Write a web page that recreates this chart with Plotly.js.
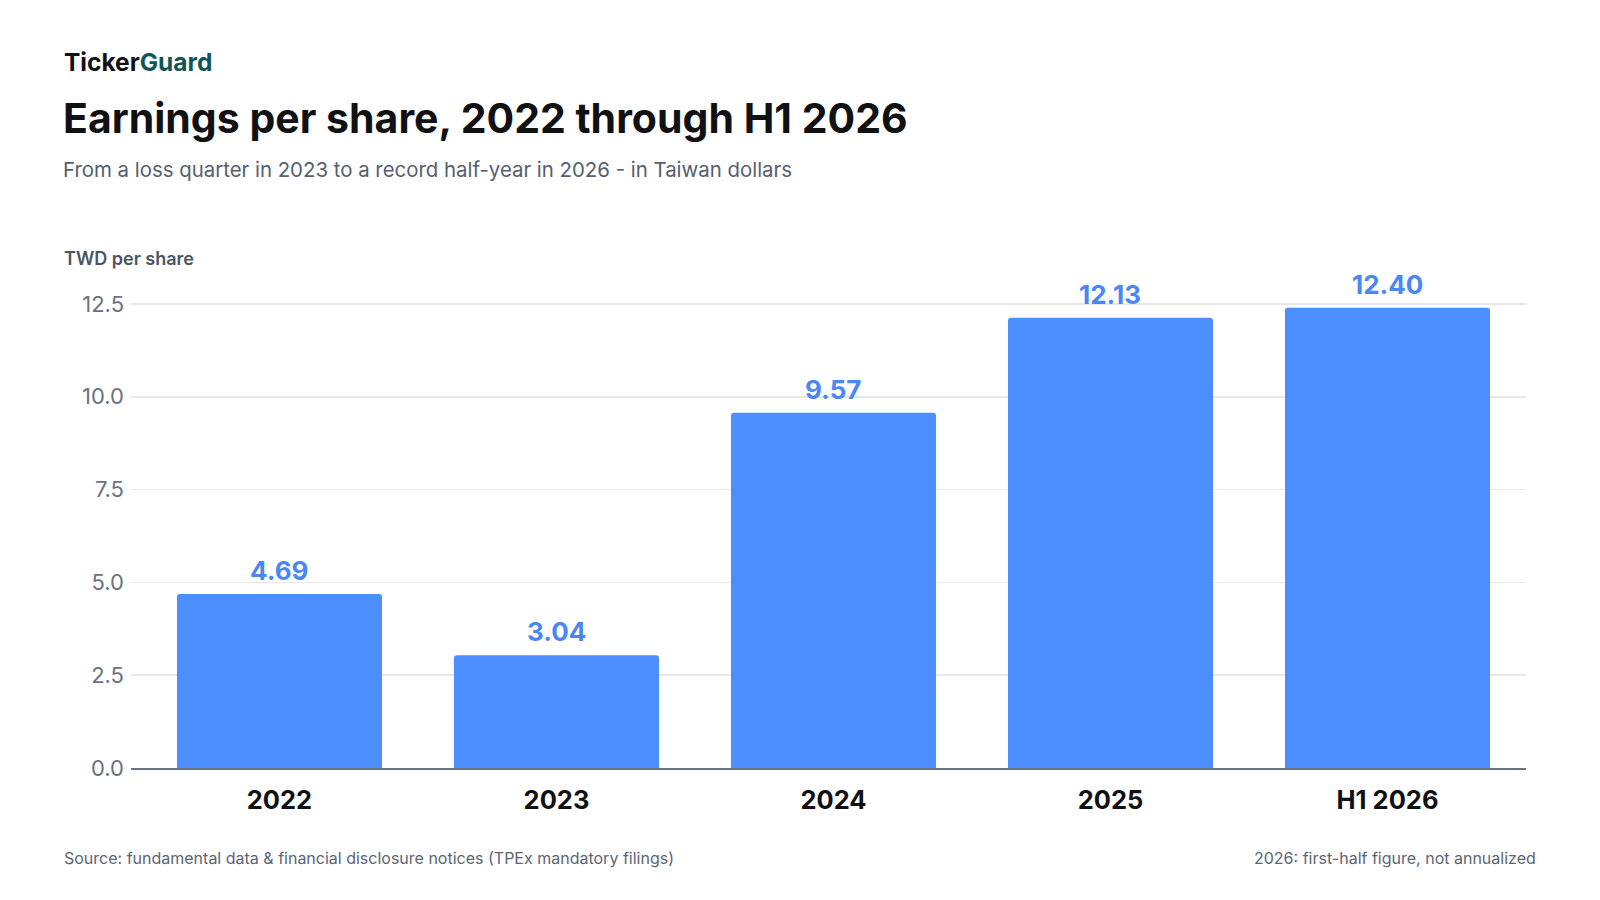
<!DOCTYPE html>
<html>
<head>
<meta charset="utf-8">
<script src="https://cdn.plot.ly/plotly-3.0.1.min.js"></script>
<style>
  html, body { margin: 0; padding: 0; background: #fff; }
  #chart { width: 1600px; height: 900px; }
</style>
</head>
<body>
<div id="chart"></div>
<script>
// data
const periods = ['2022', '2023', '2024', '2025', 'H1 2026'];
const eps = [4.69, 3.04, 9.57, 12.13, 12.40];
const yTicks = [0, 2.5, 5, 7.5, 10, 12.5];

const blue = '#4c8dff';
const font = 'Inter, "Noto Sans", sans-serif';

// plot box in pixels, used to place the header/footer text
const L = 131, R = 74, T = 278, B = 132;
const W = 1600 - L - R, H = 900 - T - B;
const px = x => (x - L) / W;
const py = y => (900 - B - y) / H;

function plotEps(el) {
    let trace = {
        x: periods,
        y: eps,
        type: 'bar',
        marker: {color: blue},
        hoverinfo: 'x+y'
    };

    // value labels over bars (x as category index, '2022' would be read as a number)
    let notes = eps.map((v, i) => ({
        x: i, y: v, xref: 'x', yref: 'y',
        text: v.toFixed(2), showarrow: false,
        yanchor: 'bottom', yshift: 6,
        font: {family: font, size: 26, color: '#4a86f5', weight: 700}
    }));

    notes.push(
        {xref: 'paper', yref: 'paper', x: px(62), y: py(62), xanchor: 'left', yanchor: 'middle',
         text: 'Ticker<span style="color:#0f5659">Guard</span>', showarrow: false,
         font: {family: font, size: 24.5, color: '#111114', weight: 700}},
        {xref: 'paper', yref: 'paper', x: px(61), y: py(118), xanchor: 'left', yanchor: 'middle',
         text: 'Earnings per share, 2022 through H1 2026', showarrow: false,
         font: {family: font, size: 41, color: '#111114', weight: 700}},
        {xref: 'paper', yref: 'paper', x: px(61), y: py(169), xanchor: 'left', yanchor: 'middle',
         text: 'From a loss quarter in 2023 to a record half-year in 2026 - in Taiwan dollars', showarrow: false,
         font: {family: font, size: 20.4, color: '#556070'}},
        {xref: 'paper', yref: 'paper', x: px(62), y: py(258), xanchor: 'left', yanchor: 'middle',
         text: 'TWD per share', showarrow: false,
         font: {family: font, size: 18, color: '#4b5563', weight: 600}},
        {xref: 'paper', yref: 'paper', x: px(62), y: py(858), xanchor: 'left', yanchor: 'middle',
         text: 'Source: fundamental data &amp; financial disclosure notices (TPEx mandatory filings)', showarrow: false,
         font: {family: font, size: 16, color: '#5b6573'}},
        {xref: 'paper', yref: 'paper', x: px(1538), y: py(858), xanchor: 'right', yanchor: 'middle',
         text: '2026: first-half figure, not annualized', showarrow: false,
         font: {family: font, size: 16, color: '#5b6573'}}
    );

    const layout = {
        width: 1600,
        height: 900,
        margin: {l: L, r: R, t: T, b: B},
        paper_bgcolor: '#fff',
        plot_bgcolor: '#fff',
        showlegend: false,
        bargap: 0.26,
        barcornerradius: 3,
        font: {family: font},
        xaxis: {
            type: 'category',
            range: [-0.536, 4.5],
            tickfont: {family: font, size: 25.5, color: '#111114', weight: 700},
            ticks: '',
            ticklabelstandoff: 8,
            showgrid: false,
            showline: true,
            linecolor: '#6b7280',
            linewidth: 2,
            fixedrange: true
        },
        yaxis: {
            range: [0, 13.2],
            tickvals: yTicks,
            ticktext: yTicks.map(v => v.toFixed(1)),
            tickfont: {family: font, size: 22, color: '#6b7280'},
            ticks: '',
            ticklabelstandoff: 6,
            showgrid: true,
            gridcolor: '#e6e7ea',
            gridwidth: 1.5,
            zeroline: false,
            showline: false,
            fixedrange: true
        },
        annotations: notes
    };

    Plotly.newPlot(el, [trace], layout, {displayModeBar: false, staticPlot: true});
}

plotEps('chart');
</script>
</body>
</html>
